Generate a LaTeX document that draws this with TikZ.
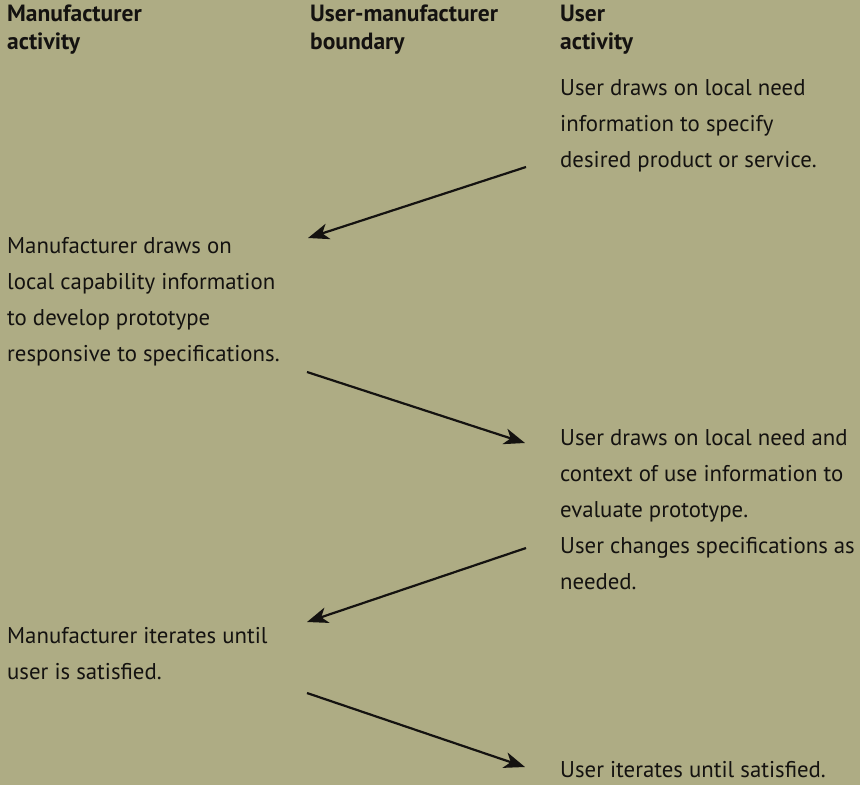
\documentclass[tikz,border=0pt]{standalone}
\usepackage{fontspec}
\setmainfont{PT Sans}
\newfontfamily\headfont{PT Sans}
\usetikzlibrary{arrows.meta}
\definecolor{bg}{RGB}{174,172,132}
\definecolor{ink}{RGB}{20,18,16}
\tikzset{
  head/.style={anchor=north west, inner sep=0pt, align=left, text=ink,
    font=\headfont\bfseries\fontsize{23.5}{28}\selectfont},
  body/.style={anchor=north west, inner sep=0pt, align=left, text=ink,
    font=\fontsize{22.8}{36}\selectfont},
  flow/.style={line width=2.2pt, draw=ink, -{Stealth[length=21pt,width=16pt,inset=6pt]}}
}
\newcommand{\fs}{\rule{0pt}{17pt}}
\begin{document}
\begin{tikzpicture}[x=1pt,y=-1pt]
\fill[bg] (0,0) rectangle (860,785);
\useasboundingbox (0,0) rectangle (860,785);
\node[head] (h1) at (7,4) {\fs Manufacturer\\activity};
\node[head] (h2) at (310,4) {\fs User-manufacturer\\boundary};
\node[head] (h3) at (560,4) {\fs User\\activity};
\node[body] (b1) at (560,78) {\fs User draws on local need\\information to specify\\desired product or service.};
\node[body] (b2) at (7,236) {\fs Manufacturer draws on\\local capability information\\to develop prototype\\responsive to specifications.};
\node[body] (b3) at (560,428) {\fs User draws on local need and\\context of use information to\\evaluate prototype.\\User changes specifications as\\needed.};
\node[body] (b4) at (7,626) {\fs Manufacturer iterates until\\user is satisfied.};
\node[body] (b5) at (560,760) {\fs User iterates until satisfied.};
\coordinate (a1s) at (526,167); \coordinate (a1e) at (308,238);
\coordinate (a2s) at (307,372); \coordinate (a2e) at (525,443);
\coordinate (a3s) at (526,548); \coordinate (a3e) at (307,622);
\coordinate (a4s) at (307,693); \coordinate (a4e) at (525,767);
\draw[flow] (a1s) -- (a1e);
\draw[flow] (a2s) -- (a2e);
\draw[flow] (a3s) -- (a3e);
\draw[flow] (a4s) -- (a4e);
\end{tikzpicture}
\end{document}
